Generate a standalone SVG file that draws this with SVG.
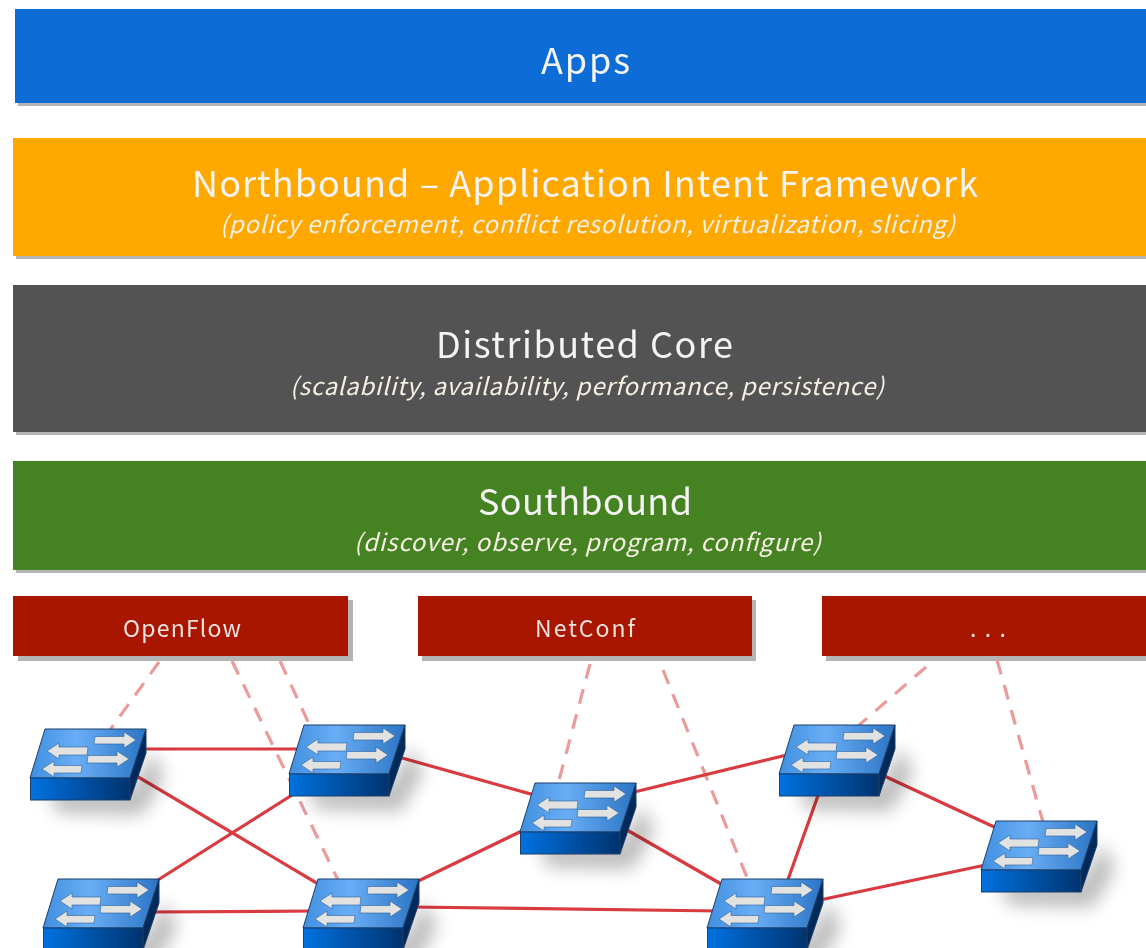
<svg xmlns="http://www.w3.org/2000/svg" width="1146" height="948" viewBox="0 0 1146 948">
<style>
text{font-family:"Noto Sans CJK JP","Noto Sans",sans-serif;fill:#fff;text-anchor:middle;font-weight:400}
.t{font-size:36px;fill:#f4f4f2}.s{font-size:24px;font-style:italic;fill:#f6efe4}.r{font-size:23px;fill:#f0e2de}
.sh{fill:#b4b4b4}
.solid{stroke:#d83a40;stroke-width:3.2;fill:none}
.dash{stroke:#ec9a9a;stroke-width:3.2;stroke-dasharray:15 11;fill:none}
.arrow{fill:#e2e2e0;stroke:#2c5f9c;stroke-width:.6}
</style>
<defs>
<filter id="soft" x="-5%" y="-5%" width="110%" height="110%"><feGaussianBlur stdDeviation="0.7"/></filter>
<filter id="blur" x="-50%" y="-50%" width="200%" height="200%"><feGaussianBlur stdDeviation="9"/></filter>
<linearGradient id="top" x1="0" y1="0" x2="1" y2="0"><stop offset="0" stop-color="#3f8fe0"/><stop offset=".4" stop-color="#69aef5"/><stop offset="1" stop-color="#2a74c4"/></linearGradient>
<linearGradient id="front" x1="0" y1="0" x2="1" y2="0"><stop offset="0" stop-color="#0672e0"/><stop offset="1" stop-color="#04336f"/></linearGradient>
<g id="sw">
<path d="M18 62 L100 62 L122 22 L134 48 L112 86 L28 84Z" fill="#000" opacity=".27" filter="url(#blur)"/>
<polygon points="15,0 116,0 100,49 0,49" fill="url(#top)" stroke="#1c3f6b" stroke-width="1"/>
<rect x="0.5" y="49" width="99.500" height="22" fill="url(#front)" stroke="#1c3f6b" stroke-width="1"/>
<polygon points="116,0 116,24 100,71 100,49" fill="#04295a" stroke="#1c3f6b" stroke-width="1"/>
<path class="arrow" d="M65 7.500H94V3L106 11L94 19V15H64Z"/>
<path class="arrow" d="M58 26.500H87V22L99 30L87 38V34H57Z"/>
<path class="arrow" d="M58 18H29V14L17 22L29 30V26H57Z"/>
<path class="arrow" d="M52 36.500H24V32L12 40L24 48V44H51Z"/>
</g>
</defs>
<rect width="1146" height="948" fill="#fff"/>
<g filter="url(#soft)">
<g id="apps"><rect class="sh" x="18" y="12" width="1128" height="94"/><rect x="15" y="9" width="1131" height="94" fill="#0b6cd6"/><text class="t" x="585.500" y="74" textLength="89" lengthAdjust="spacing">Apps</text></g>
<g id="northbound"><rect class="sh" x="16" y="141" width="1130" height="118"/><rect x="13" y="138" width="1133" height="118" fill="#ffa800"/><text class="t" x="585" y="197" textLength="786" lengthAdjust="spacing">Northbound – Application Intent Framework</text><text class="s" x="587.500" y="233" textLength="735" lengthAdjust="spacing">(policy enforcement, conflict resolution, virtualization, slicing)</text></g>
<g id="core"><rect class="sh" x="16" y="288" width="1130" height="147"/><rect x="13" y="285" width="1133" height="147" fill="#525252"/><text class="t" x="584.500" y="358" textLength="297" lengthAdjust="spacing">Distributed Core</text><text class="s" x="587" y="395" textLength="594" lengthAdjust="spacing">(scalability, availability, performance, persistence)</text></g>
<g id="southbound"><rect class="sh" x="16" y="464" width="1130" height="109"/><rect x="13" y="461" width="1133" height="109" fill="#448222"/><text class="t" x="585" y="515" textLength="214" lengthAdjust="spacing">Southbound</text><text class="s" x="587.500" y="551" textLength="467" lengthAdjust="spacing">(discover, observe, program, configure)</text></g>
<g id="openflow"><rect class="sh" x="18" y="600" width="335" height="61"/><rect x="13" y="596" width="335" height="60" fill="#a81400"/><text class="r" x="182" y="637" textLength="118" lengthAdjust="spacing">OpenFlow</text></g>
<g id="netconf"><rect class="sh" x="422" y="600" width="334" height="61"/><rect x="418" y="596" width="334" height="60" fill="#a81400"/><text class="r" x="585" y="637" textLength="100" lengthAdjust="spacing">NetConf</text></g>
<g id="more"><rect class="sh" x="826" y="600" width="320" height="61"/><rect x="822" y="596" width="324" height="60" fill="#a81400"/><text class="r" x="988" y="637" textLength="36" lengthAdjust="spacing">. . .</text></g>
<g id="connectors">
<path class="dash" d="M159 662L110 730M232 661L338 880M280 661L310 726M590 664L558 784M663 670L748 880M926 667L858 726M997 660L1043 822"/>
<path class="solid" d="M140 749L305 749M130 772L325 888M150 885L300 790M150 912L315 911M395 756L545 798M410 885L532 826M410 907L720 911M626 794L795 753M620 826L735 892M820 790L786 885M880 774L1005 832M815 901L995 863"/>
</g>
<use id="switch1" href="#sw" x="30" y="729"/>
<use id="switch2" href="#sw" x="289" y="725"/>
<use id="switch3" href="#sw" x="43" y="879"/>
<use id="switch4" href="#sw" x="303" y="879"/>
<use id="switch5" href="#sw" x="520" y="783"/>
<use id="switch6" href="#sw" x="779" y="725"/>
<use id="switch7" href="#sw" x="707" y="879"/>
<use id="switch8" href="#sw" x="981" y="821"/>
</g>
</svg>
